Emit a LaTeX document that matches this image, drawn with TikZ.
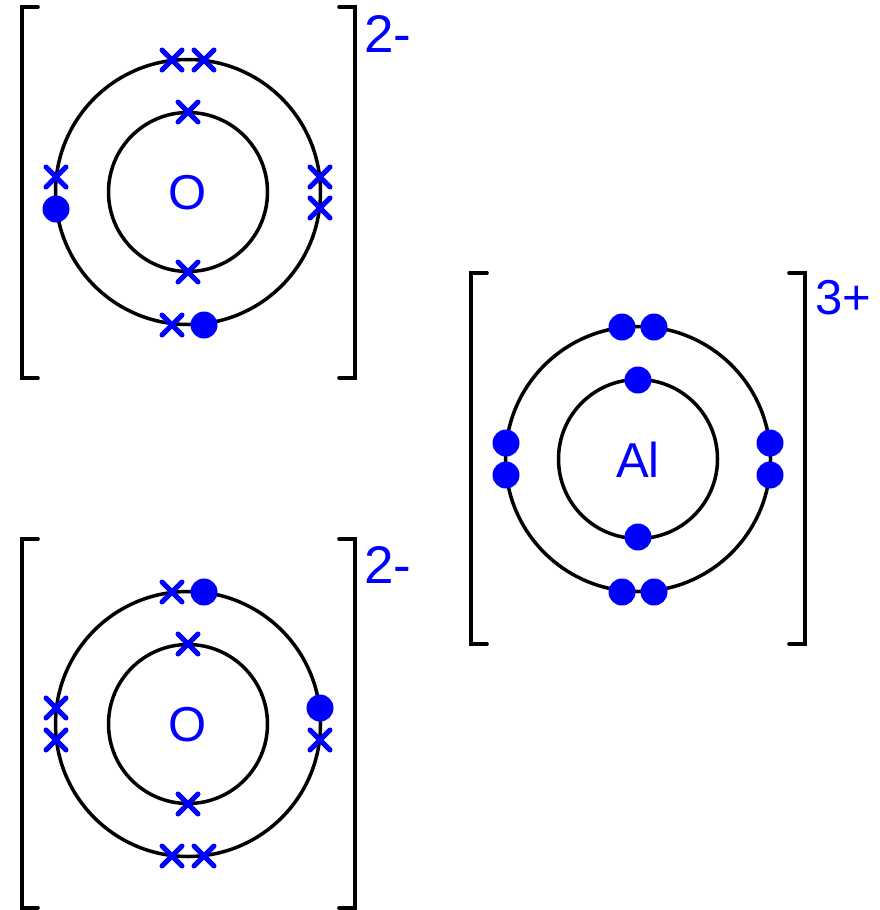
\documentclass[tikz,border=0pt]{standalone}
\usepackage{fontspec}
\setmainfont{Liberation Sans}
\definecolor{eblue}{RGB}{0,0,255}
\tikzset{
  shell/.style={draw=black,line width=3.5pt},
  brack/.style={draw=black,line width=3.6pt,line cap=round,line join=miter},
  lbl/.style={text=eblue,font=\fontsize{49pt}{49pt}\selectfont,inner sep=0pt,anchor=center},
  chg/.style={text=eblue,font=\fontsize{53pt}{53pt}\selectfont,inner sep=0pt,anchor=center},
  dot/.style={fill=eblue,draw=none},
  crossline/.style={draw=eblue,line width=5pt,line cap=round}
}
\newcommand{\crs}[2]{\draw[crossline] (#1-10,#2-10) -- (#1+10,#2+10) (#1-10,#2+10) -- (#1+10,#2-10);}
\newcommand{\elec}[2]{\fill[dot] (#1,#2) circle[radius=13.5];}
\newcommand{\brk}[4]{%
  \draw[brack] (#1+16,#3) -- (#1,#3) -- (#1,#4) -- (#1+16,#4);
  \draw[brack] (#2-16,#3) -- (#2,#3) -- (#2,#4) -- (#2-16,#4);}
\newcommand{\shells}[2]{%
  \draw[shell] (#1,#2) circle[radius=79.5];
  \draw[shell] (#1,#2) circle[radius=132.5];}
\begin{document}
\begin{tikzpicture}[x=1pt,y=-1pt]
\useasboundingbox (0,0) rectangle (879,910);
% top oxygen
\brk{22}{355}{7}{378}
\shells{188}{192}
\node[lbl] (o1) at (188,193) {O};
\node[chg] (c1) at (388,34) {2-};
\crs{172}{60}\crs{204}{60}
\crs{188}{112}\crs{188}{272}
\crs{56}{177}\elec{56}{209}
\crs{320}{177}\crs{320}{208}
\crs{172}{325}\elec{204}{325}
% bottom oxygen
\brk{22}{355}{539}{908}
\shells{188}{724}
\node[lbl] (o2) at (188,725) {O};
\node[chg] (c2) at (388,565) {2-};
\crs{172}{592}\elec{204}{592}
\crs{188}{644}\crs{188}{804}
\crs{56}{708}\crs{56}{740}
\elec{320}{708}\crs{320}{740}
\crs{172}{856}\crs{204}{856}
% aluminium
\brk{471}{805}{273}{644}
\shells{638}{459}
\node[lbl] (al) at (638,460) {Al};
\node[lbl] (c3) at (843,298) {3+};
\elec{622}{327}\elec{654}{327}
\elec{638}{380}\elec{638}{537}
\elec{506}{443}\elec{506}{475}
\elec{770}{443}\elec{770}{475}
\elec{622}{592}\elec{654}{592}
\end{tikzpicture}
\end{document}
